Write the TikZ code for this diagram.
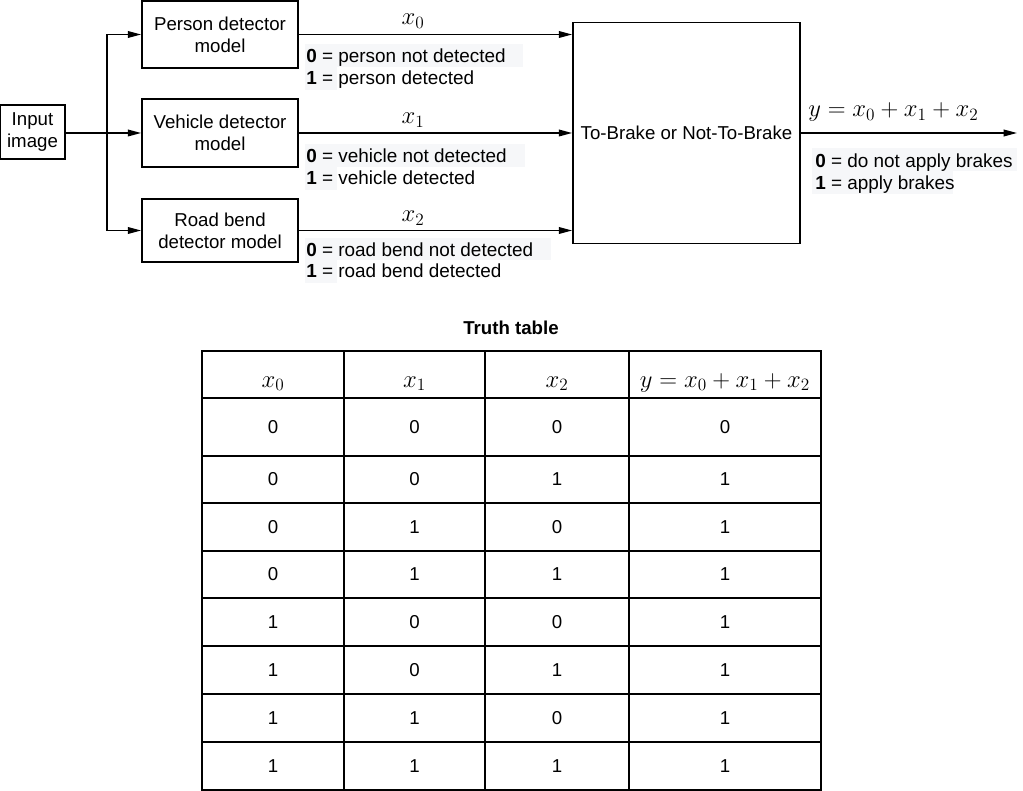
\RequirePackage{fix-cm}
\documentclass[tikz,border=0pt]{standalone}
\usepackage{fontspec}
\setmainfont{Liberation Sans}
\usetikzlibrary{arrows.meta}
\definecolor{legbg}{RGB}{246,247,249}
\begin{document}
\begin{tikzpicture}[x=0.75pt,y=-0.75pt,
  box/.style={draw=black, line width=1.3pt, rectangle, inner sep=0pt, align=center,
    font=\fontsize{14}{16.4}\selectfont},
  conn/.style={line width=1.1pt, -{Triangle[length=10pt,width=5pt]}},
  txt/.style={font=\fontsize{14.2}{16}\selectfont, inner sep=0pt, anchor=base west},
  mth/.style={font=\fontsize{18.5}{22}\selectfont, inner sep=0pt, anchor=base},
  cell/.style={font=\fontsize{14}{16}\selectfont, inner sep=0pt},
  gridline/.style={line width=1.3pt}]
\useasboundingbox (0,0) rectangle (1023,791);

% boxes
\node[box, minimum width=48.75pt, minimum height=40.5pt] (inp) at (32.5,132) {Input\\image};
\node[box, minimum width=117pt, minimum height=50.25pt] (person) at (220,34.5) {Person detector\\model};
\node[box, minimum width=117pt, minimum height=51pt] (vehicle) at (220,133) {Vehicle detector\\model};
\node[box, minimum width=117pt, minimum height=47.25pt] (road) at (220,230.5) {Road bend\\detector model};
\node[box, minimum width=170.25pt, minimum height=165.75pt] (brake) at (686.5,133) {To-Brake or Not-To-Brake};

% input branching
\coordinate (br) at (107,133);
\draw[line width=1.1pt] (inp.east |- br) -- (br);
\draw[conn] (br) -- (vehicle.west |- br);
\draw[conn] (br) |- (person.west);
\draw[conn] (br) |- (road.west);

% detector outputs
\draw[conn] (person.east) -- (person.east -| brake.west);
\draw[conn] (vehicle.east) -- (vehicle.east -| brake.west);
\draw[conn] (road.east) -- (road.east -| brake.west);
\coordinate (out) at (1017,133);
\draw[conn] (brake.east) -- (out);

% math labels
\node[mth] (lx0) at (413,25) {$x_0$};
\node[mth] (lx1) at (413,124) {$x_1$};
\node[mth] (lx2) at (413,222) {$x_2$};
\node[mth, anchor=base west] (ly) at (808,117) {$y=x_0+x_1+x_2$};

% legend backgrounds
\fill[legbg] (305,44) rectangle (523,67);
\fill[legbg] (305,67) rectangle (337,90);
\fill[legbg] (305,144) rectangle (525,167);
\fill[legbg] (305,167) rectangle (337,190);
\fill[legbg] (305,238) rectangle (551,260);
\fill[legbg] (305,260) rectangle (337,283);
\fill[legbg] (812,148) rectangle (1017,171);
\fill[legbg] (812,171) rectangle (953,194);

% legends
\node[txt] (p0) at (306,63) {\textbf{0} = person not detected};
\node[txt] (p1) at (306,85) {\textbf{1} = person detected};
\node[txt] (v0) at (306,163) {\textbf{0} = vehicle not detected};
\node[txt] (v1) at (306,185) {\textbf{1} = vehicle detected};
\node[txt] (r0) at (306,257) {\textbf{0} = road bend not detected};
\node[txt] (r1) at (306,278) {\textbf{1} = road bend detected};
\node[txt] (o0) at (815,168) {\textbf{0} = do not apply brakes};
\node[txt] (o1) at (815,190) {\textbf{1} = apply brakes};

% truth table
\node[font=\fontsize{14}{16}\selectfont\bfseries, inner sep=0pt, anchor=base] (title) at (511,334) {Truth table};
\draw[gridline] (202,351) rectangle (821,790);
\foreach \yy in {398,456,503,551,598,646,694,742} \draw[gridline] (202,\yy) -- (821,\yy);
\foreach \xx in {344,485,629} \draw[gridline] (\xx,351) -- (\xx,790);

\node[mth] (h0) at (273,387) {$x_0$};
\node[mth] (h1) at (414.5,387) {$x_1$};
\node[mth] (h2) at (557,387) {$x_2$};
\node[mth] (h3) at (725,387) {$y=x_0+x_1+x_2$};

\foreach \yy/\a/\b/\c/\d [count=\i] in
  {427/0/0/0/0, 479.5/0/0/1/1, 527/0/1/0/1, 574.5/0/1/1/1,
   622/1/0/0/1, 670/1/0/1/1, 718/1/1/0/1, 766/1/1/1/1} {
  \node[cell] (c\i-a) at (273,\yy) {\a};
  \node[cell] (c\i-b) at (414.5,\yy) {\b};
  \node[cell] (c\i-c) at (557,\yy) {\c};
  \node[cell] (c\i-d) at (725,\yy) {\d};
}
\end{tikzpicture}
\end{document}
